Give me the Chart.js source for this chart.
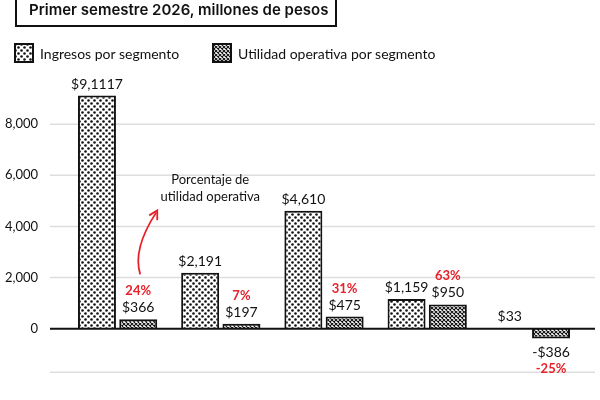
<!DOCTYPE html>
<html><head><meta charset="utf-8">
<script src="https://cdn.jsdelivr.net/npm/chart.js@4"></script>
<style>
body{margin:0;width:600px;height:400px;overflow:hidden;background:#fff;font-family:Lato,sans-serif;position:relative}
#title{position:absolute;left:15px;top:-4px;width:322px;height:31px;border:2.5px solid #111;border-top:none;font:600 15px Inter,sans-serif;color:#111;padding-left:12px;line-height:28px;box-sizing:border-box}
.leg{position:absolute;top:43px;font:14px Lato,sans-serif;color:#111;display:flex;align-items:center}
.leg canvas{width:20px;height:20px;margin-right:6px}
#wrap{position:absolute;left:0;top:0;width:600px;height:400px}
</style></head><body>
<div id="wrap"><canvas id="c" width="600" height="400"></canvas></div>
<div id="title">Primer semestre 2026, millones de pesos</div>
<div class="leg" style="left:14px"><canvas id="l1" width="20" height="20"></canvas>Ingresos por segmento</div>
<div class="leg" style="left:212px"><canvas id="l2" width="20" height="20"></canvas>Utilidad operativa por segmento</div>
<script>
const categories=["Segmento 1","Segmento 2","Segmento 3","Segmento 4","Segmento 5"];
const ingresos=[9117,2191,4610,1159,33];
const utilidad=[366,197,475,950,-386];
const ingresosLabels=["$9,1117","$2,191","$4,610","$1,159","$33"];
const utilidadLabels=["$366","$197","$475","$950","-$386"];
const margen=["24%","7%","31%","63%","-25%"];
const yTicks=[0,2000,4000,6000,8000];

function dotPattern(){const c=document.createElement('canvas');c.width=6;c.height=6;const x=c.getContext('2d');
x.fillStyle='#fff';x.fillRect(0,0,6,6);x.fillStyle='#111';
x.beginPath();x.arc(1.5,1.5,1.3,0,7);x.fill();x.beginPath();x.arc(4.5,4.5,1.3,0,7);x.fill();return c;}
function hatchPattern(){const c=document.createElement('canvas');c.width=4;c.height=4;const x=c.getContext('2d');
x.fillStyle='#fff';x.fillRect(0,0,4,4);x.strokeStyle='#111';x.lineWidth=1.1;
x.beginPath();x.moveTo(0,0);x.lineTo(4,4);x.moveTo(4,0);x.lineTo(0,4);x.stroke();return c;}
const pc=document.createElement('canvas').getContext('2d');
const pDot=pc.createPattern(dotPattern(),'repeat'),pHatch=pc.createPattern(hatchPattern(),'repeat');
[['l1',dotPattern()],['l2',hatchPattern()]].forEach(([id,src])=>{const x=document.getElementById(id).getContext('2d');
x.fillStyle=x.createPattern(src,'repeat');x.fillRect(0,0,20,20);x.strokeStyle='#111';x.lineWidth=2;x.strokeRect(1,1,18,18);});

const deco={id:'deco',
beforeDatasetsDraw(ch){const {ctx,scales:{y}}=ch;ctx.save();
 ctx.strokeStyle='#ddd';ctx.lineWidth=1.5;
 yTicks.forEach(t=>{if(t===0)return;const py=y.getPixelForValue(t);ctx.beginPath();ctx.moveTo(50,py);ctx.lineTo(595,py);ctx.stroke();});
 ctx.beginPath();ctx.moveTo(50,y.bottom);ctx.lineTo(595,y.bottom);ctx.stroke();
 ctx.restore();},
afterDatasetsDraw(ch){const {ctx,scales:{y}}=ch;ctx.save();
 const z=y.getPixelForValue(0);ctx.strokeStyle='#111';ctx.lineWidth=2;ctx.beginPath();ctx.moveTo(50,z);ctx.lineTo(595,z);ctx.stroke();
 ctx.textAlign='center';ctx.font='14px Lato, sans-serif';
 const m0=ch.getDatasetMeta(0),m1=ch.getDatasetMeta(1);
 m0.data.forEach((b,i)=>{ctx.fillStyle='#111';ctx.fillText(ingresosLabels[i],b.x,b.y-7);});
 m1.data.forEach((b,i)=>{const neg=utilidad[i]<0;
  ctx.font='14px Lato, sans-serif';ctx.fillStyle='#111';
  if(neg){ctx.textBaseline='top';ctx.fillText(utilidadLabels[i],b.x,b.y+7);ctx.font='bold 13px Lato, sans-serif';ctx.fillStyle='#e8202a';ctx.fillText(margen[i],b.x,b.y+24);}
  else{ctx.textBaseline='alphabetic';ctx.fillText(utilidadLabels[i],b.x,b.y-7);ctx.font='bold 13px Lato, sans-serif';ctx.fillStyle='#e8202a';ctx.fillText(margen[i],b.x,b.y-24);}
 });
 const b=m1.data[0];const sx=b.x,sy=b.y-45;
 ctx.strokeStyle='#e8202a';ctx.lineWidth=1.8;ctx.beginPath();ctx.moveTo(sx+2,sy);ctx.quadraticCurveTo(sx-6,sy-25,sx+18,sy-62);ctx.stroke();
 ctx.beginPath();ctx.moveTo(sx+11,sy-59);ctx.lineTo(sx+19,sy-64);ctx.lineTo(sx+19,sy-54);ctx.stroke();
 ctx.fillStyle='#111';ctx.font='13px Lato, sans-serif';ctx.textAlign='center';ctx.textBaseline='alphabetic';
 ctx.fillText('Porcentaje de',sx+72,sy-90);ctx.fillText('utilidad operativa',sx+72,sy-73);
 ctx.restore();}};

new Chart(document.getElementById('c'),{type:'bar',
data:{labels:categories,datasets:[
 {label:'Ingresos por segmento',data:ingresos,backgroundColor:pDot,borderColor:'#111',borderWidth:2,categoryPercentage:0.8,barPercentage:0.92},
 {label:'Utilidad operativa por segmento',data:utilidad,backgroundColor:pHatch,borderColor:'#111',borderWidth:2,categoryPercentage:0.8,barPercentage:0.92}]},
options:{responsive:false,animation:false,devicePixelRatio:1,
 layout:{padding:{top:73,bottom:3,left:0,right:18}},
 plugins:{legend:{display:false},tooltip:{enabled:false}},
 scales:{
  x:{display:false},
  y:{min:-1700,max:10000,afterBuildTicks:a=>{a.ticks=yTicks.map(v=>({value:v}));},
   afterFit:a=>{a.width=66;},
   grid:{display:false},border:{display:false},
   ticks:{padding:20,color:'#111',font:{size:13,family:'Lato'},callback:v=>v.toLocaleString('en-US')}}}},
plugins:[deco]});
</script>
</body></html>
